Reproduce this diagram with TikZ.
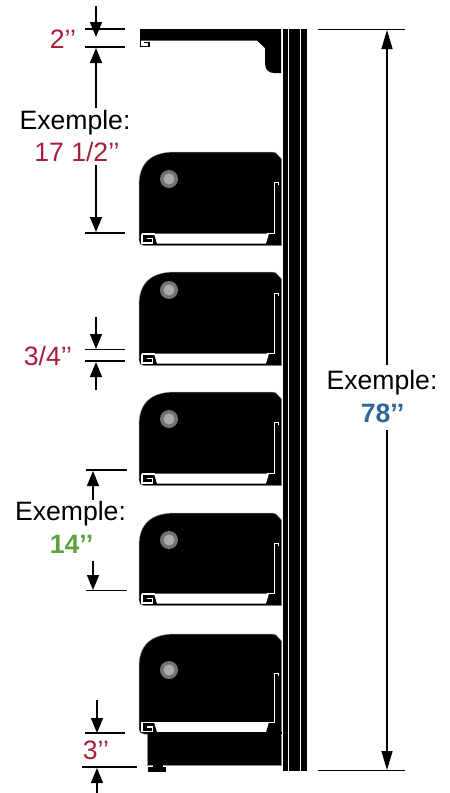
\documentclass[tikz,border=0pt]{standalone}
\usepackage{fontspec}
\setmainfont{Liberation Sans}
\usetikzlibrary{arrows.meta}
\definecolor{dimred}{HTML}{A81E3A}
\definecolor{dimblue}{HTML}{2F679C}
\definecolor{dimgreen}{HTML}{5DA43C}
\tikzset{
  tick/.style={line width=1.1pt,black},
  dimarrow/.style={line width=1.4pt,black,-{Triangle[length=15pt,width=12pt]}},
  bigarrow/.style={line width=1.4pt,black,-{Triangle[length=19pt,width=11pt]}},
  lab/.style={font=\fontsize{26.6}{30}\selectfont,inner sep=0pt,anchor=center},
  redlab/.style={lab,text=dimred},
  boldlab/.style={lab,font=\fontsize{26.6}{30}\selectfont\bfseries},
}
\newcommand{\drawbin}[3]{%
  % #1 top y, #2 y of the white band's top, #3 y of the knob
  \fill[black,draw=black!45,line width=.5pt]
    (139,#1+33) .. controls (139,#1+12) and (150,#1) .. (175,#1)
    -- (273,#1) -- (276,#1+1) -- (281.5,#1+7) -- (281.5,#2+12) -- (144,#2+12)
    .. controls (141,#2+12) and (139,#2+10) .. (139,#2+7) -- cycle;
  \fill[white] (154,#2) -- (157,#2+10) -- (266,#2+10) -- (269,#2) -- cycle;
  \draw[white,line width=1.2pt] (142,#2+.5) -- (155,#2+.5);
  \draw[white,line width=1.2pt] (152.5,#2+5) -- (147,#2+5);
  \draw[white,line width=1.2pt] (142,#2) -- (142,#2+9.5) -- (152.5,#2+9.5) -- (152.5,#2+4.5);
  \draw[white,line width=1pt] (267,#2+.4) -- (274,#2+.4) -- (274,#3+3) -- (278.5,#3+3) -- (278.5,#3+6);
  \fill[black!55] (169,#3) circle[radius=9];
  \fill[black!33] (169,#3) circle[radius=5.5];
}
\begin{document}
\begin{tikzpicture}[x=1pt,y=-1pt]
\useasboundingbox (0,0) rectangle (450,793);
% pole
\fill[black] (283,29) rectangle (307,771);
\draw[white,line width=.9pt] (288.7,29) -- (288.7,771);
\draw[white,line width=.9pt] (300.6,29) -- (300.6,771);
% top shelf
\fill[black] (140,29) -- (281,29) -- (281,73) -- (274,73)
  .. controls (268,73) and (265,69) .. (265,63) -- (265,48) -- (257,40.5) -- (140,40.5) -- cycle;
\draw[black,line width=1.2pt] (144,42.6) -- (149,42.6) -- (149,46.8) -- (140.6,46.8) -- (140.6,40);
% bins
\drawbin{152}{233.5}{179}
\drawbin{272}{353.5}{290}
\drawbin{392}{473.5}{419}
\drawbin{513}{593.5}{540}
\drawbin{634}{722}{670}
% base
\fill[black] (147.5,732) rectangle (281.5,765);
\draw[black!45,line width=.5pt] (147.5,734) -- (147.5,765) -- (281.5,765) -- (281.5,734);
\fill[black] (153,765) rectangle (163,767);
\fill[black] (148,767) rectangle (166,771.5);
% dimensions: ticks
\coordinate (t1a) at (85,29);  \coordinate (t1b) at (125,29);
\coordinate (t2a) at (85,47);  \coordinate (t2b) at (125,47);
\coordinate (t3a) at (85,233); \coordinate (t3b) at (125,233);
\coordinate (t4a) at (85,349.5); \coordinate (t4b) at (125,349.5);
\coordinate (t5a) at (85,361); \coordinate (t5b) at (125,361);
\coordinate (t6a) at (86,470); \coordinate (t6b) at (127,470);
\coordinate (t7a) at (86,590.5); \coordinate (t7b) at (127,590.5);
\coordinate (t8a) at (85,733); \coordinate (t8b) at (125,733);
\coordinate (t9a) at (82,767); \coordinate (t9b) at (137,767);
\coordinate (t10a) at (318,29.5); \coordinate (t10b) at (405,29.5);
\coordinate (t11a) at (318,770.5); \coordinate (t11b) at (405,770.5);
\foreach \n in {1,...,11} \draw[tick] (t\n a) -- (t\n b);
% labels
\node[redlab] (l2) at (63,39) {2’’};
\node[lab] (ex1) at (75,123) {Exemple:};
\node[redlab] (l17) at (77,152) {17 1/2’’};
\node[redlab] (l34) at (48,355.5) {3/4’’};
\node[lab] (ex2) at (70.5,513.5) {Exemple:};
\node[boldlab,text=dimgreen] (l14) at (71.5,544) {14’’};
\node[redlab] (l3) at (96,750) {3’’};
\node[lab] (ex3) at (382,382.5) {Exemple:};
\node[boldlab,text=dimblue] (l78) at (382.5,413.5) {78’’};
% arrows
\coordinate (a1s) at (96,6);    \coordinate (a1e) at (96,37);
\coordinate (a2s) at (96,108);  \coordinate (a2e) at (96,48);
\coordinate (a3s) at (96,165);  \coordinate (a3e) at (96,232);
\coordinate (a4s) at (96,317);  \coordinate (a4e) at (96,349);
\coordinate (a5s) at (96,390);  \coordinate (a5e) at (96,362);
\coordinate (a6s) at (93,500);  \coordinate (a6e) at (93,471);
\coordinate (a7s) at (93,561);  \coordinate (a7e) at (93,590);
\coordinate (a8s) at (97,700);  \coordinate (a8e) at (97,733);
\coordinate (a9s) at (97,794);  \coordinate (a9e) at (97,768);
\foreach \n in {1,...,9} \draw[dimarrow] (a\n s) -- (a\n e);
\coordinate (a10s) at (387,365); \coordinate (a10e) at (387,30);
\coordinate (a11s) at (387,430); \coordinate (a11e) at (387,770);
\draw[bigarrow] (a10s) -- (a10e);
\draw[bigarrow] (a11s) -- (a11e);
\end{tikzpicture}
\end{document}
